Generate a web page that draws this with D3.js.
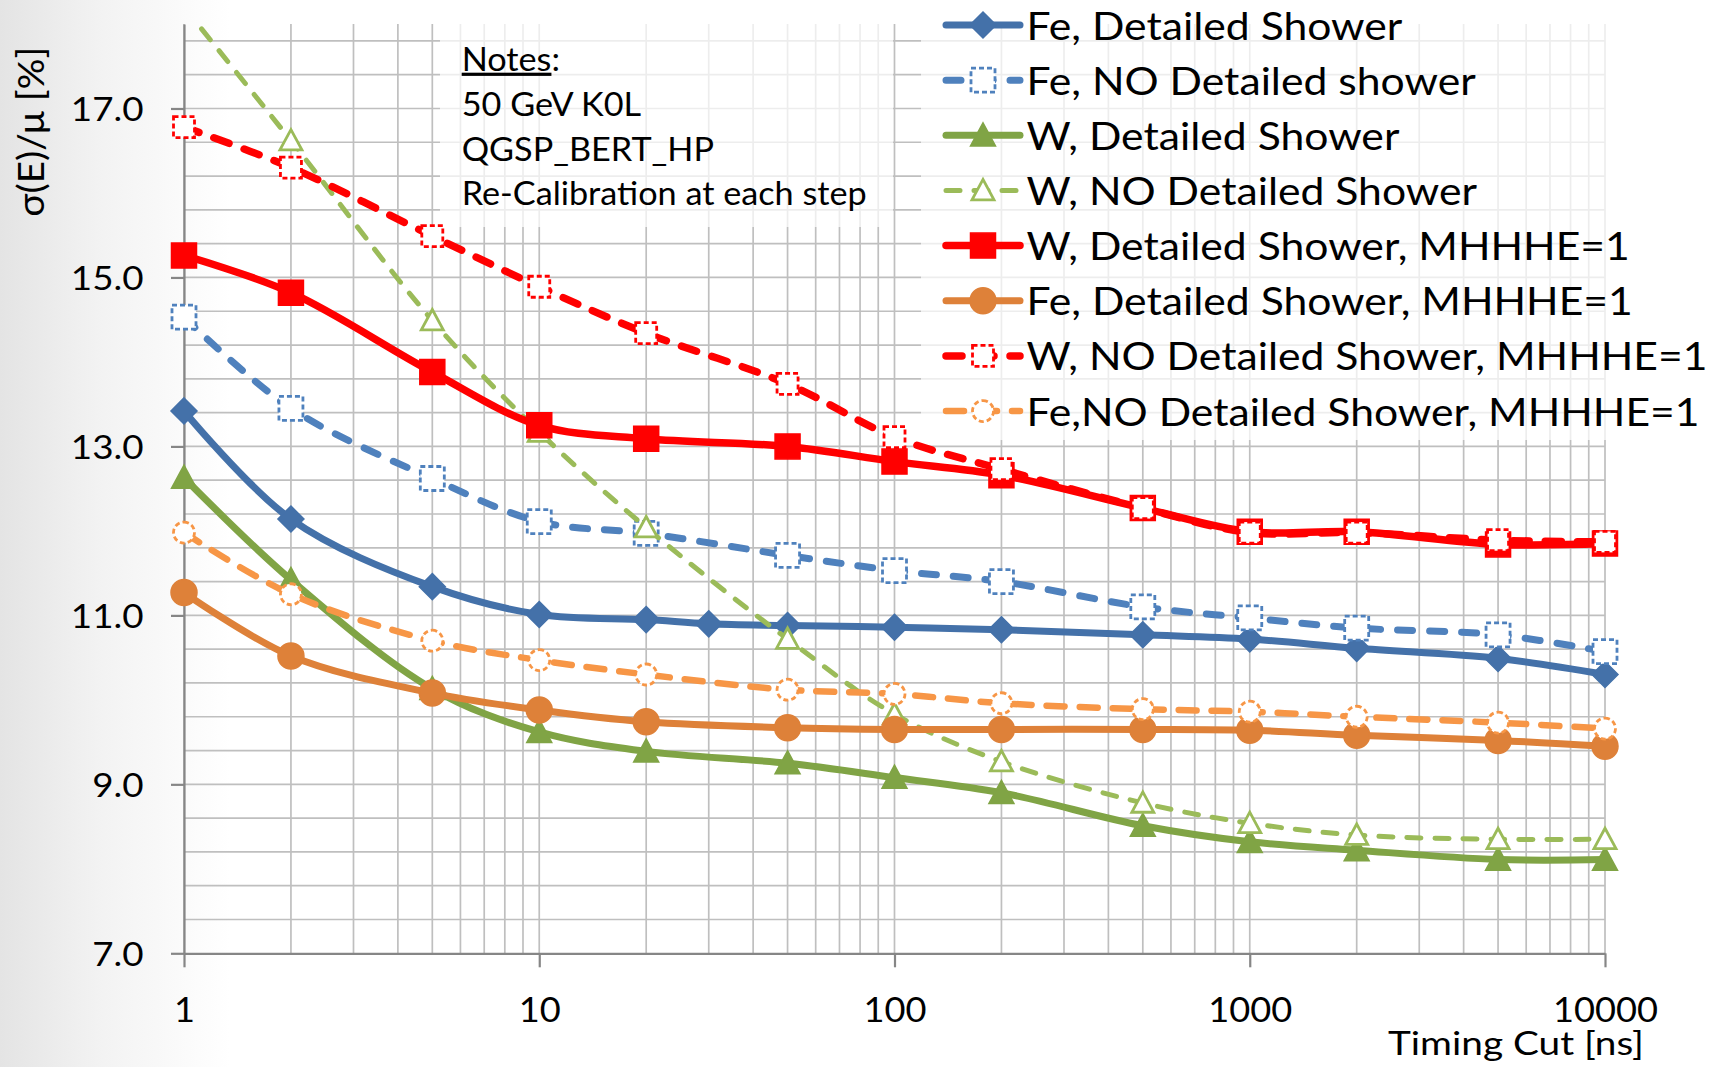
<!DOCTYPE html>
<html><head><meta charset="utf-8">
<script src="https://cdn.jsdelivr.net/npm/d3@7/dist/d3.min.js"></script>
<style>html,body{margin:0;padding:0;background:#fff;overflow:hidden}text{font-family:Lato,"Open Sans",sans-serif;fill:#000}</style>
</head><body>
<svg id="chart" width="1710" height="1067"></svg>
<script>
// ---------------- data ----------------
const xCuts   = [1,2,5,10,20,50,100,200,500,1000,2000,5000,10000];
const xCutsFe = [1,2,5,10,20,30,50,100,200,500,1000,2000,5000,10000];

const feDetailed     = [13.42,12.14,11.34,11.01,10.95,10.90,10.88,10.86,10.83,10.77,10.72,10.61,10.49,10.30];
const feNoDetailed   = [14.53,13.45,12.62,12.11,11.97,11.71,11.53,11.40,11.10,10.97,10.85,10.77,10.57];
const wDetailed      = [12.63,11.42,10.13,9.62,9.39,9.25,9.08,8.90,8.51,8.32,8.22,8.11,8.11];
const wNoDetailed    = [18.2,16.62,14.49,13.17,12.04,10.72,9.83,9.27,8.78,8.54,8.40,8.35,8.35];
const wDetailedMH    = [15.26,14.82,13.88,13.25,13.09,13.00,12.82,12.66,12.27,11.99,11.99,11.84,11.85];
const feDetailedMH   = [11.27,10.52,10.08,9.88,9.74,9.67,9.65,9.65,9.65,9.64,9.58,9.52,9.45];
const wNoDetailedMH  = [16.78,16.30,15.49,14.89,14.34,13.74,13.11,12.73,12.27,11.98,11.98,11.89,11.87];
const feNoDetailedMH = [11.98,11.25,10.70,10.47,10.30,10.12,10.07,9.96,9.89,9.86,9.80,9.73,9.66];

const seriesNames = [
  "Fe, Detailed Shower",
  "Fe, NO Detailed shower",
  "W, Detailed Shower",
  "W, NO Detailed Shower",
  "W, Detailed Shower, MHHHE=1",
  "Fe, Detailed Shower, MHHHE=1",
  "W, NO Detailed Shower, MHHHE=1",
  "Fe,NO Detailed Shower, MHHHE=1"
];
const yTickValues = [7,9,11,13,15,17];
const xTickValues = [1,10,100,1000,10000];
const notesLines = ["50 GeV K0L","QGSP_BERT_HP","Re-Calibration at each step"];
const notesTitle = "Notes";
const xAxisTitle = "Timing Cut [ns]";
const yAxisTitle = "σ(E)/μ [%]";

// ---------------- styles ----------------
const seriesX = [xCutsFe, xCuts, xCuts, xCuts, xCuts, xCuts, xCuts, xCuts];
const seriesV = [feDetailed, feNoDetailed, wDetailed, wNoDetailed, wDetailedMH, feDetailedMH, wNoDetailedMH, feNoDetailedMH];
const styles = [
  {color:"#4471a9", w:7,   dash:null,    marker:"diamond",  size:26, open:false},
  {color:"#4f81bd", w:7,   dash:"15,17", marker:"square",   size:24, open:true, mdash:true},
  {color:"#80a445", w:7,   dash:null,    marker:"triangle", size:25, open:false},
  {color:"#9bbb59", w:5,   dash:"14,14", marker:"triangle", size:22, open:true, mdash:false},
  {color:"#ff0000", w:7.5, dash:null,    marker:"square",   size:25, open:false},
  {color:"#de8139", w:7,   dash:null,    marker:"circle",   size:26, open:false},
  {color:"#ff0000", w:7.5, dash:"16,16", marker:"square",   size:21, open:true, mdash:true},
  {color:"#f79646", w:6.5, dash:"18,15", marker:"circle",   size:21, open:true, mdash:true}
];

function markerPath(type, s){
  const h = s/2;
  if (type === "diamond") return `M0,${-h}L${h},0L0,${h}L${-h},0Z`;
  if (type === "square") return `M${-h},${-h}H${h}V${h}H${-h}Z`;
  if (type === "triangle") return `M0,${-h}L${h},${h*0.85}L${-h},${h*0.85}Z`;
  return d3.arc()({innerRadius:0, outerRadius:h, startAngle:0, endAngle:2*Math.PI});
}
function stretchTo(sel, k){
  sel.each(function(){
    const w = this.getComputedTextLength();
    d3.select(this).attr("textLength", w*k).attr("lengthAdjust","spacingAndGlyphs");
  });
}

const svg = d3.select("#chart");
const W = 1710, H = 1067;

// background gradient
const defs = svg.append("defs");
const lg = defs.append("linearGradient").attr("id","bg").attr("x1",0).attr("x2",1).attr("y1",0).attr("y2",0);
lg.append("stop").attr("offset","0%").attr("stop-color","#e4e4e4");
lg.append("stop").attr("offset","45%").attr("stop-color","#f3f3f3");
lg.append("stop").attr("offset","100%").attr("stop-color","#ffffff");
svg.append("rect").attr("width",W).attr("height",H).attr("fill","#fff");
svg.append("rect").attr("width",230).attr("height",H).attr("fill","url(#bg)");

const x = d3.scaleLog().domain([1,10000]).range([184,1605]);
const y = d3.scaleLinear().domain([7,18]).range([953.3,24]);

defs.append("clipPath").attr("id","plotclip").append("rect")
  .attr("x",165).attr("y",y(18)).attr("width",1470).attr("height",y(7)-y(18)+20);

// grid
const vGrid = [];
[1,10,100,1000].forEach(d => { for (let k=1;k<10;k++) vGrid.push(d*k); });
vGrid.push(10000);
const hGrid = d3.range(7.4, 17.81, 0.4);
const grid = svg.append("g").attr("stroke","#bfbfbf").attr("stroke-width",1.7);
grid.selectAll(".v").data(vGrid).join("line")
  .attr("x1",d=>x(d)).attr("x2",d=>x(d)).attr("y1",y(18)).attr("y2",y(7));
grid.selectAll(".h").data(hGrid).join("line")
  .attr("x1",x(1)).attr("x2",x(10000)).attr("y1",d=>y(d)).attr("y2",d=>y(d));

// semi-transparent boxes (notes, legend)
svg.append("rect").attr("x",440).attr("y",0).attr("width",453).attr("height",227).attr("fill","#fff").attr("opacity",0.72);
svg.append("rect").attr("x",921).attr("y",0).attr("width",789).attr("height",440).attr("fill","#fff").attr("opacity",0.72);

// axes
const yAxis = svg.append("g").attr("transform",`translate(${x(1)},0)`)
  .call(d3.axisLeft(y).tickValues(yTickValues).tickSize(13).tickSizeOuter(0).tickPadding(27.5).tickFormat(d3.format(".1f")));
const xAxis = svg.append("g").attr("transform",`translate(0,${y(7)})`)
  .call(d3.axisBottom(x).tickValues(xTickValues).tickSize(14).tickSizeOuter(0).tickFormat(d3.format("d")));
[yAxis, xAxis].forEach(a => {
  a.select(".domain").attr("stroke","#868686").attr("stroke-width",2.2);
  a.selectAll(".tick line").attr("stroke","#868686").attr("stroke-width",2.2);
  a.selectAll("text").attr("font-family",null).attr("fill","#000");
});
yAxis.attr("font-size",null).selectAll(".tick text").attr("font-size",33).attr("dy","11.8px");
xAxis.attr("font-size",null).selectAll(".tick text").attr("font-size",35).attr("y",68.4).attr("dy",0);
{
  const ref = yAxis.selectAll(".tick text").filter(d=>d===17).node();
  stretchTo(yAxis.selectAll(".tick text"), 72.7/ref.getComputedTextLength());
  const refx = xAxis.selectAll(".tick text").filter(d=>d===10000).node();
  stretchTo(xAxis.selectAll(".tick text"), 105/refx.getComputedTextLength());
}

// axis titles
const xt = svg.append("text").attr("x",1644).attr("y",1055).attr("text-anchor","end").attr("font-size",33).text(xAxisTitle);
stretchTo(xt, 256/xt.node().getComputedTextLength());
const yt = svg.append("text").attr("transform","translate(44,131.7) rotate(-90)").attr("text-anchor","middle").attr("font-size",36).text(yAxisTitle);
stretchTo(yt, 170/yt.node().getComputedTextLength());

// series
const line = d3.line().x(d=>x(d.x)).y(d=>y(d.v)).curve(d3.curveCatmullRom.alpha(0.5));
const plot = svg.append("g").attr("clip-path","url(#plotclip)");
seriesV.forEach((vals,i) => {
  const st = styles[i];
  const pts = vals.map((v,j)=>({x:seriesX[i][j], v}));
  const g = plot.append("g");
  g.append("path").attr("d",line(pts)).attr("fill","none").attr("stroke",st.color)
    .attr("stroke-width",st.w).attr("stroke-linecap","round").attr("stroke-linejoin","round")
    .attr("stroke-dasharray",st.dash);
  g.selectAll("path.m").data(pts).join("path").attr("class","m")
    .attr("transform",d=>`translate(${x(d.x)},${y(d.v)})`)
    .attr("d",markerPath(st.marker, st.size))
    .attr("fill",st.open?"#fff":st.color)
    .attr("stroke",st.color).attr("stroke-width",st.open?2.8:1.5)
    .attr("stroke-dasharray",st.open&&st.mdash?"5,3":null);
});

// notes
const notes = svg.append("g");
const nt = notes.append("text").attr("x",461.7).attr("y",70.7).attr("font-size",32);
nt.append("tspan").attr("text-decoration","underline").text(notesTitle);
nt.append("tspan").text(":");
const nl = notes.selectAll("text.l").data(notesLines).join("text").attr("class","l")
  .attr("x",461.7).attr("y",(d,i)=>116+i*44.6).attr("font-size",32).text(d=>d);
{
  const kN = 405/nl.filter(d=>d==="Re-Calibration at each step").node().getComputedTextLength();
  stretchTo(nl, kN); stretchTo(nt, kN);
}

// legend
const leg = svg.append("g");
const rows = leg.selectAll("g").data(seriesNames).join("g")
  .attr("transform",(d,i)=>`translate(0,${25+i*55.15})`);
rows.each(function(d,i){
  const st = styles[i];
  const r = d3.select(this);
  r.append("line").attr("x1",946).attr("x2",1020).attr("y1",0).attr("y2",0)
    .attr("stroke",st.color).attr("stroke-width",st.w).attr("stroke-linecap","round")
    .attr("stroke-dasharray",st.dash);
  r.append("path").attr("transform","translate(983,0)").attr("d",markerPath(st.marker, st.size))
    .attr("fill",st.open?"#fff":st.color).attr("stroke",st.color).attr("stroke-width",st.open?2.8:1.5)
    .attr("stroke-dasharray",st.open&&st.mdash?"5,3":null);
});
const lt = rows.append("text").attr("x",1026.5).attr("y",14.5).attr("font-size",39.5).text(d=>d);
{
  const kL = 681/lt.filter(d=>d==="W, NO Detailed Shower, MHHHE=1").node().getComputedTextLength();
  stretchTo(lt, kL);
}
</script>
</body></html>
